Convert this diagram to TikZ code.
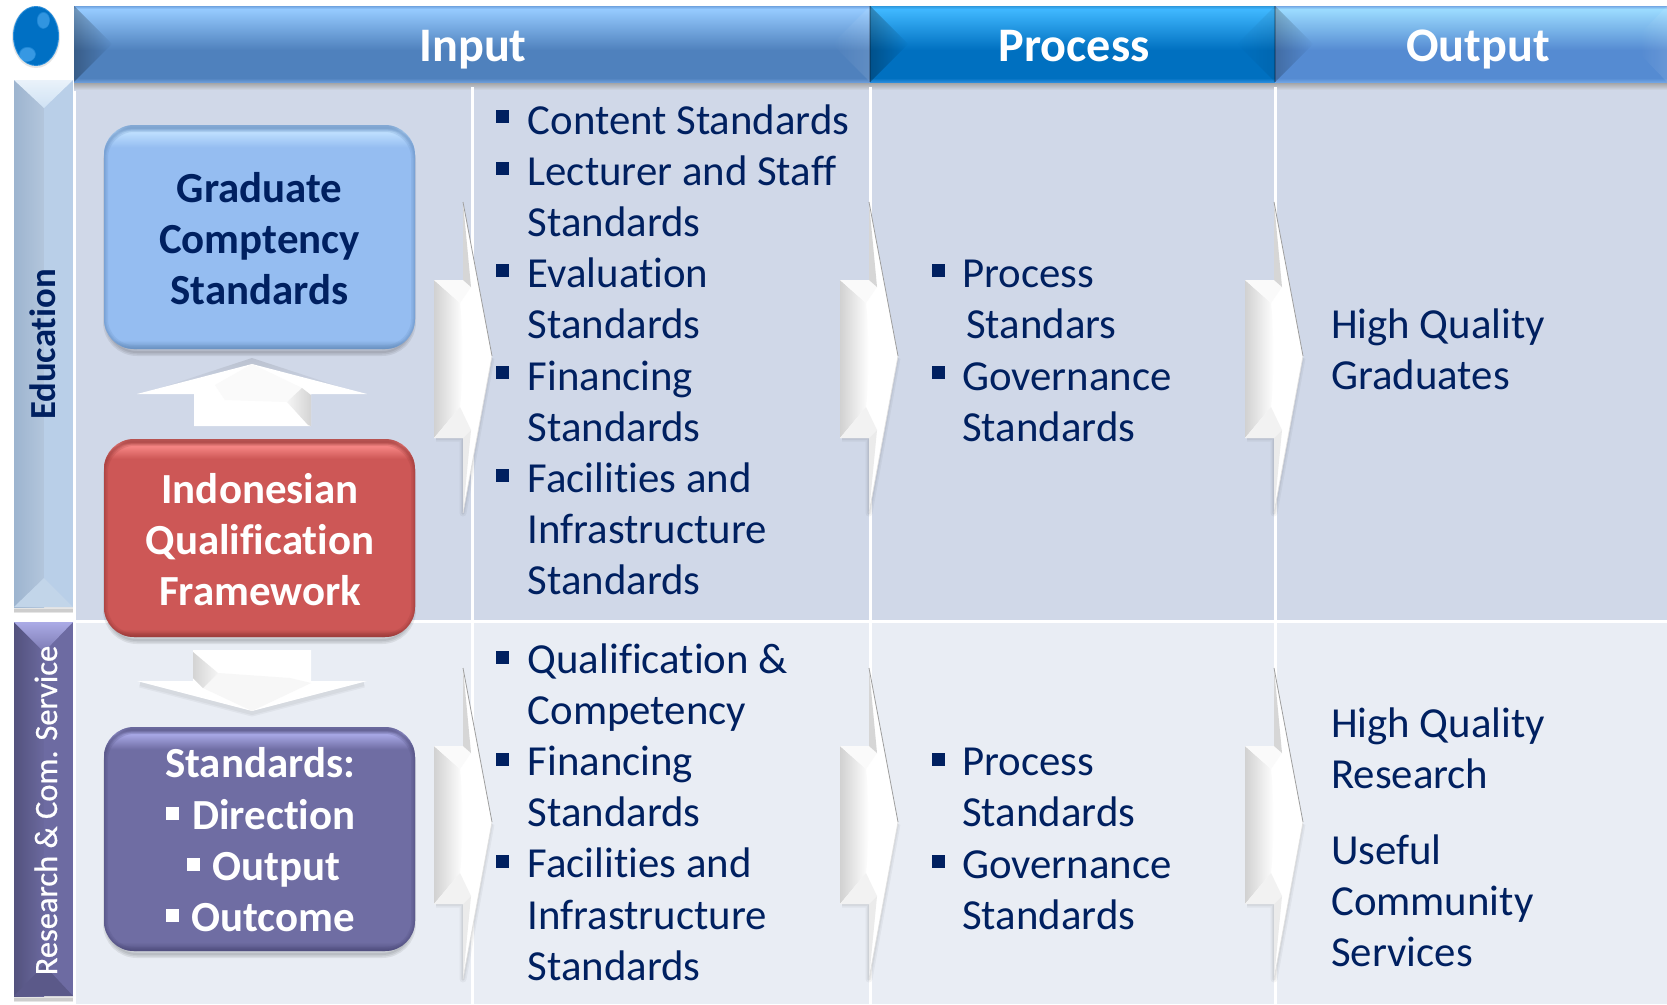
\documentclass[tikz,border=0pt]{standalone}
\usepackage{fontspec}
\setmainfont{Carlito}[Ligatures=CommonOff]
\newfontfamily\sidefont{Carlito}[Ligatures=CommonOff,FakeBold=0.6]
\usetikzlibrary{fadings}
\definecolor{navy}{HTML}{002060}
\definecolor{rowA}{HTML}{D0D8E8}
\definecolor{rowB}{HTML}{E9EDF4}
\definecolor{ballC}{HTML}{0070C4}\definecolor{ballE}{HTML}{2A8FDC}\definecolor{ballH}{HTML}{5AB4F8}
\definecolor{eduL}{HTML}{9DB4CF}\definecolor{eduM}{HTML}{B3C6DC}\definecolor{eduR}{HTML}{B9CFE8}\definecolor{eduT}{HTML}{EAF2FA}\definecolor{eduU}{HTML}{CFE2F4}\definecolor{eduB}{HTML}{C2D5E9}
\definecolor{resL}{HTML}{53527E}\definecolor{resM}{HTML}{6B699E}\definecolor{resR}{HTML}{6D6BA2}\definecolor{resT}{HTML}{ABABE6}\definecolor{resU}{HTML}{7C7AB2}\definecolor{resB}{HTML}{5B5989}
% header colours
\definecolor{iTop}{HTML}{96CBFF}\definecolor{iEdge}{HTML}{6FA3DF}\definecolor{iMid}{HTML}{4F81BD}\definecolor{iLow}{HTML}{6C9CD8}
\definecolor{pTop}{HTML}{40B8FF}\definecolor{pEdge}{HTML}{2E98DC}\definecolor{pMid}{HTML}{0070C0}\definecolor{pLow}{HTML}{2A8CDC}
\definecolor{oTop}{HTML}{9CDCFF}\definecolor{oEdge}{HTML}{74A8E4}\definecolor{oMid}{HTML}{558BD2}\definecolor{oLow}{HTML}{70A4E4}
\pgfdeclareverticalshading{hdrI}{100bp}{color(0bp)=(iLow);color(25bp)=(iLow);color(27.6bp)=(iMid);color(46bp)=(iMid);color(73bp)=(iTop);color(75bp)=(iEdge);color(100bp)=(iEdge)}
\pgfdeclareverticalshading{hdrP}{100bp}{color(0bp)=(pLow);color(25bp)=(pLow);color(27.6bp)=(pMid);color(46bp)=(pMid);color(73bp)=(pTop);color(75bp)=(pEdge);color(100bp)=(pEdge)}
\pgfdeclareverticalshading{hdrO}{100bp}{color(0bp)=(oLow);color(25bp)=(oLow);color(27.6bp)=(oMid);color(46bp)=(oMid);color(73bp)=(oTop);color(75bp)=(oEdge);color(100bp)=(oEdge)}
% box colours
\definecolor{bMain}{HTML}{95BDF1}\definecolor{bLite}{HTML}{BFE0FF}\definecolor{bDark}{HTML}{6C94C4}
\definecolor{rMain}{HTML}{CD5756}\definecolor{rLite}{HTML}{FA8A88}\definecolor{rDark}{HTML}{9E3D3C}
\definecolor{uMain}{HTML}{6F6DA3}\definecolor{uLite}{HTML}{AAAAE8}\definecolor{uDark}{HTML}{525080}
\pgfdeclareverticalshading{boxB}{100bp}{color(0bp)=(bDark);color(25bp)=(bDark);color(27bp)=(bMain);color(70bp)=(bMain);color(73.5bp)=(bLite);color(75bp)=(bDark!60!bLite);color(100bp)=(bDark)}
\pgfdeclareverticalshading{boxR}{100bp}{color(0bp)=(rDark);color(25bp)=(rDark);color(27bp)=(rMain);color(70bp)=(rMain);color(73.5bp)=(rLite);color(75bp)=(rDark!60!rLite);color(100bp)=(rDark)}
\pgfdeclareverticalshading{boxU}{100bp}{color(0bp)=(uDark);color(25bp)=(uDark);color(27bp)=(uMain);color(70bp)=(uMain);color(73.5bp)=(uLite);color(75bp)=(uDark!60!uLite);color(100bp)=(uDark)}
\tikzset{
  txt/.style={inner sep=0pt,text=navy,align=left,font=\fontsize{42.8}{51.2}\selectfont},
  boxtxt/.style={inner sep=0pt,align=center,font=\bfseries\fontsize{42.9}{51.2}\selectfont},
  headtxt/.style={inner sep=0pt,text=white,font=\bfseries\fontsize{48.2}{51}\selectfont,anchor=base},
}
% bullet: x, top y, colour
\newcommand{\bul}[3]{\fill[#3] (#1,#2) rectangle ++(13,13);}
% rounded box with bevel and shadow: x0,y0,x1,y1,shading,dark colour
\newcommand{\bevelbox}[6]{%
  \foreach \w in {8,5,2}{\draw[black,opacity=.07,line width=\w pt,rounded corners=30pt] (#1+3,#2+7) rectangle (#3-3,#4+3);}
  \shade[shading=#5,rounded corners=30pt] (#1,#2) rectangle (#3,#4);
  \begin{scope}
    \clip[rounded corners=30pt] (#1,#2) rectangle (#3,#4);
    \foreach \w in {8,5,3,1.5}{\draw[#6,opacity=.22,line width=\w pt,rounded corners=30pt] (#1,#2+3) rectangle (#3,#4);}
  \end{scope}}
% right block arrow: left x, centre y
\newcommand{\rarrow}[2]{%
 \begin{scope}[shift={(#1,#2)}]
  \foreach \w in {7,4,2}{\draw[black,opacity=.04,line width=\w pt,line join=round] (2,80) -- (29,80) -- (29,155) -- (57,0);}
  \fill[white] (0,-78) -- (29,-78) -- (29,-156) -- (58,-2) -- (29,155) -- (29,80) -- (0,80) -- cycle;
  \shade[left color=black!18,right color=white] (0,-78) -- (26,-55) .. controls (29,-25) and (29,20) .. (26,49) -- (0,80) -- cycle;
  \fill[black!5] (0,80) -- (26,49) -- (37,72) -- (29,80) -- cycle;
  \fill[black!2] (0,-78) -- (29,-78) -- (37,-71) -- (26,-55) -- cycle;
  \fill[black!16] (29,-156) -- (29,-78) -- (37,-71) -- cycle;
  \fill[black!8] (29,155) -- (29,80) -- (37,72) -- cycle;
  \draw[black!38,line width=.8pt] (29,-156) -- (58,-2);
  \draw[black!12,line width=.7pt] (58,-2) -- (29,155);
 \end{scope}}
\begin{document}
\begin{tikzpicture}[x=1pt,y=-1pt]
\useasboundingbox (0,0) rectangle (1667,1004);
\fill[white] (0,0) rectangle (1667,1004);
% rows
\fill[rowA] (76,84) rectangle (1667,620);
\fill[rowB] (76,622) rectangle (1667,1004);
\draw[white,line width=3pt] (76,621) -- (1667,621);
\foreach \x in {472,870,1275}{\draw[white,line width=3pt] (\x,84) -- (\x,1004);}
% header shadow
\shade[top color=black!38,bottom color=rowA] (74,82) rectangle (1667,90);
\foreach \x in {472,870,1275}{\draw[white,line width=3pt] (\x,87) -- (\x,92);}
% header segments
\shade[shading=hdrI] (74,6) rectangle (870,82);
\shade[shading=hdrP] (870,6) rectangle (1275,82);
\shade[shading=hdrO] (1275,6) rectangle (1667,82);
\fill[black,opacity=.28,path fading=east] (74,6) -- (112,44) -- (74,82) -- cycle;
\fill[black,opacity=.28,path fading=east] (870,6) -- (908,44) -- (870,82) -- cycle;
\fill[black,opacity=.22,path fading=east] (1275,6) -- (1313,44) -- (1275,82) -- cycle;
\fill[white,opacity=.10,path fading=west] (870,6) -- (832,44) -- (870,82) -- cycle;
\fill[black,opacity=.08,path fading=west] (1275,6) -- (1237,44) -- (1275,82) -- cycle;
\fill[white,opacity=.10,path fading=west] (1667,6) -- (1640,34) -- (1640,54) -- (1667,82) -- cycle;
\draw[black,opacity=.22,line width=1.2pt] (870,6) -- (870,82) (1275,6) -- (1275,82);
\node[headtxt] (hinput) at (473,61) {Input};
\node[headtxt] (hprocess) at (1074,61) {Process};
\node[headtxt] (houtput) at (1478,61) {Output};
% ball
\fill[black!10] (36,37) ellipse (24 and 31);
\fill[ballE] (36,36) ellipse (23 and 30);
\fill[ballC] (36,36) ellipse (22 and 29);
\fill[ballH,opacity=.55,path fading=circle with fuzzy edge 20 percent] (43,20) ellipse (7 and 9);
\fill[ballH,opacity=.6,path fading=circle with fuzzy edge 20 percent] (27,54) ellipse (9 and 8);
% side tabs
\foreach \w in {6,3}{\draw[black,opacity=.1,line width=\w pt] (14,610) -- (73,610);\draw[black,opacity=.1,line width=\w pt] (14,999) -- (73,999);}
\shade[left color=eduL,right color=eduM] (14,80) rectangle (44,607);
\fill[eduR] (44,80) rectangle (73,607);
\shade[top color=eduT,bottom color=eduU] (14,80) -- (73,80) -- (44,108) -- cycle;
\fill[eduB] (14,607) -- (73,607) -- (44,578) -- cycle;
\shade[left color=resL,right color=resM] (14,622) rectangle (44,996);
\fill[resR] (44,622) rectangle (73,996);
\shade[top color=resT,bottom color=resU] (14,622) -- (73,622) -- (44,652) -- cycle;
\fill[resB] (14,996) -- (73,996) -- (44,965) -- cycle;
\node[inner sep=0pt,text=navy,rotate=90,anchor=base,font=\bfseries\fontsize{36.7}{40}\selectfont] (tedu) at (55,344.5) {Education};
\node[inner sep=0pt,text=white,rotate=90,anchor=base,font=\sidefont\fontsize{32.5}{40}\selectfont] (tres) at (57,810.5) {Research \& Com. Service};
% left boxes
\bevelbox{104}{125}{415}{349}{boxB}{bDark}
\bevelbox{104}{439}{415}{637}{boxR}{rDark}
\bevelbox{104}{727}{415}{951}{boxU}{uDark}
\node[boxtxt,text=navy,anchor=base] (grad) at (259.5,304.5) {Graduate\\Comptency\\Standards};
\node[boxtxt,text=white,anchor=base] (iqf) at (260,605.5) {Indonesian\\Qualification\\Framework};
\node[boxtxt,text=white,anchor=base] (std0) at (260,777.5) {Standards:};
\node[boxtxt,text=white,anchor=base west] (std1) at (192,829.5) {Direction};
\node[boxtxt,text=white,anchor=base west] (std2) at (212,880.5) {Output};
\node[boxtxt,text=white,anchor=base west] (std3) at (191,931.5) {Outcome};
\bul{166}{807}{white}\bul{187}{858}{white}\bul{166}{909}{white}
% vertical arrows
\fill[black,opacity=.10,path fading=south] (145,393) -- (252,358) -- (359,393) -- cycle;
\fill[white] (252,364) -- (367,394) -- (311,394) -- (311,426) -- (194,426) -- (194,394) -- (137,394) -- cycle;
\fill[black!2] (252,364) -- (302,388) -- (287,402) -- (225,400) -- (215,385) -- cycle;
\shade[left color=black!4,right color=black!17] (311,426) -- (311,395) -- (302,388) -- (287,402) -- (308,425) -- cycle;
\foreach \w in {7,4}{\draw[black,opacity=.04,line width=\w pt,line join=round] (140,684) -- (252,713) -- (364,684);}
\fill[white] (193,650) -- (311,650) -- (311,681) -- (367,681) -- (252,711) -- (137,681) -- (193,681) -- cycle;
\fill[black!3] (203,688) -- (218,673) -- (290,678) -- (311,683) -- (252,711) -- cycle;
\shade[left color=black!17,right color=black!4] (193,652) -- (193,678) -- (203,688) -- (218,673) -- cycle;
% block arrows
\rarrow{434}{358}\rarrow{840}{358}\rarrow{1245}{358}
\rarrow{434}{824}\rarrow{840}{824}\rarrow{1245}{824}
% Input lists
\node[txt,anchor=base west] (a1) at (527.5,134) {Content Standards};
\node[txt,anchor=base west] (a2) at (527.5,236.3) {Lecturer and Staff\\Standards};
\node[txt,anchor=base west] (a3) at (527.5,338.8) {Evaluation\\Standards};
\node[txt,anchor=base west] (a4) at (527.5,441.2) {Financing\\Standards};
\node[txt,anchor=base west] (a5) at (527.5,594.4) {Facilities and\\Infrastructure\\Standards};
\foreach \y in {110,161.6,264,366.4,468.8}{\bul{496}{\y}{navy}}
\node[txt,anchor=base west] (b1) at (527.5,724.5) {Qualification \&\\Competency};
\node[txt,anchor=base west] (b2) at (527.5,826.3) {Financing\\Standards};
\node[txt,anchor=base west] (b3) at (527.5,980.3) {Facilities and\\Infrastructure\\Standards};
\foreach \y in {650.5,753,855}{\bul{496}{\y}{navy}}
% Process lists
\node[txt,anchor=base west] (c1) at (962,338.5) {Process\\\hspace*{4pt}Standars};
\node[txt,anchor=base west] (c2) at (962,441.2) {Governance\\Standards};
\foreach \y in {264,366.4}{\bul{932}{\y}{navy}}
\node[txt,anchor=base west] (d1) at (962,826.3) {Process\\Standards};
\node[txt,anchor=base west] (d2) at (962,929.3) {Governance\\Standards};
\foreach \y in {753,855}{\bul{932}{\y}{navy}}
% Outputs
\node[txt,anchor=base west] (e1) at (1331,389.8) {High Quality\\Graduates};
\node[txt,anchor=base west] (e2) at (1331,788.5) {High Quality\\Research};
\node[txt,anchor=base west] (e3) at (1331,966.8) {Useful\\Community\\Services};
\end{tikzpicture}
\end{document}
